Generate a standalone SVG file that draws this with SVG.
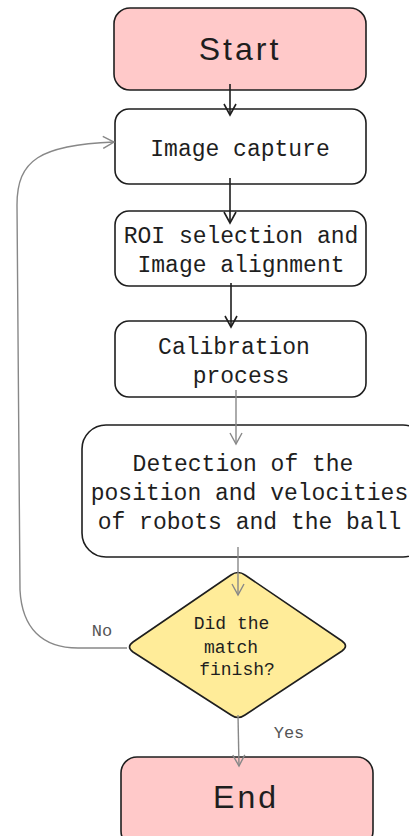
<svg xmlns="http://www.w3.org/2000/svg" width="409" height="836" viewBox="0 0 409 836">
<style>
.box{stroke:#1e1e1e;stroke-width:1.6;fill:#ffffff}
.pink{fill:#ffc9c9}
.yellow{fill:#ffec99}
.mono{font-family:"Liberation Mono","DejaVu Sans Mono",monospace;font-size:23px;fill:#1e1e1e;text-anchor:middle}
.small{font-family:"Liberation Mono","DejaVu Sans Mono",monospace;font-size:18px;fill:#1e1e1e;text-anchor:middle}
.lbl{font-family:"Liberation Mono","DejaVu Sans Mono",monospace;font-size:17px;fill:#555;text-anchor:middle}
.hand{font-family:"Liberation Sans",sans-serif;font-size:32px;fill:#1e1e1e;text-anchor:middle;letter-spacing:3px}
.dark{stroke:#1e1e1e;stroke-width:1.6;fill:none}
.gray{stroke:#888;stroke-width:1.4;fill:none}
</style>
<defs>
<marker id="ad" viewBox="0 0 14 14" refX="12" refY="7" markerWidth="14" markerHeight="14" markerUnits="userSpaceOnUse" orient="auto">
<path d="M1,1 L12,7 L1,13" fill="none" stroke="#1e1e1e" stroke-width="1.6"/>
</marker>
<marker id="ag" viewBox="0 0 14 14" refX="12" refY="7" markerWidth="14" markerHeight="14" markerUnits="userSpaceOnUse" orient="auto">
<path d="M1,1 L12,7 L1,13" fill="none" stroke="#888" stroke-width="1.4"/>
</marker>
</defs>
<g id="start"><rect class="box pink" x="114" y="8" width="252" height="82" rx="16"/><text class="hand" x="240" y="60">Start</text></g>
<g id="capture"><rect class="box" x="115" y="109" width="251" height="75" rx="14"/><text class="mono" x="240" y="156">Image capture</text></g>
<g id="roi"><rect class="box" x="115" y="211" width="251" height="75" rx="14"/><text class="mono" x="241" y="243">ROI selection and</text><text class="mono" x="241" y="272">Image alignment</text></g>
<g id="calib"><rect class="box" x="115" y="321" width="251" height="76" rx="14"/><text class="mono" x="234" y="354">Calibration</text><text class="mono" x="241" y="383">process</text></g>
<g id="detect"><rect class="box" x="82" y="425" width="345" height="132" rx="24"/><text class="mono" x="243" y="471">Detection of the</text><text class="mono" x="249.5" y="500">position and velocities</text><text class="mono" x="249.5" y="529">of robots and the ball</text></g>
<g id="decision"><path class="box yellow" d="M231,575 Q238,570 245,575 L342,641 Q349,646 342,651 L245,715 Q238,720 231,715 L133,652 Q126,647 133,642 Z"/><text class="small" x="231.5" y="629">Did the</text><text class="small" x="231" y="653">match</text><text class="small" x="237" y="675">finish?</text></g>
<g id="end"><rect class="box pink" x="121" y="757" width="252" height="90" rx="16"/><text class="hand" x="246" y="808">End</text></g>
<g id="connectors">
<path class="dark" d="M230,84 L230,115" marker-end="url(#ad)"/>
<path class="dark" d="M230,178 L230,223" marker-end="url(#ad)"/>
<path class="dark" d="M231,283 L231,327" marker-end="url(#ad)"/>
<path class="gray" d="M236,390 L236,444" marker-end="url(#ag)"/>
<path class="gray" d="M238,547 L238,595" marker-end="url(#ag)"/>
<path class="gray" d="M238,715 L239,766" marker-end="url(#ag)"/>
<path class="gray" d="M127,648 L78,648 C42,648 22,628 20,590 L17,205 C17,160 40,145 114,142" marker-end="url(#ag)"/>
<text class="lbl" x="102" y="636">No</text>
<text class="lbl" x="289" y="738">Yes</text>
</g>
</svg>
